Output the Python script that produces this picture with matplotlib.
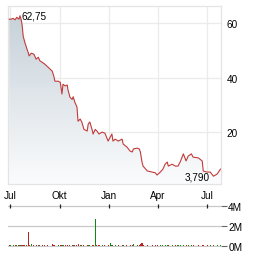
import matplotlib
matplotlib.use('Agg')
import matplotlib.pyplot as plt
import matplotlib.dates as mdates
import numpy as np
import pandas as pd

plt.rcParams['font.family'] = ['Liberation Sans', 'DejaVu Sans']

start = pd.Timestamp('2023-06-29')
# days after start
day = [0, 3, 7, 11, 14, 18, 20, 22, 24, 26,
       29, 33, 35, 37, 41, 46, 50, 54, 57, 61,
       66, 72, 80, 83, 85, 91, 95, 98, 100, 104,
       108, 109, 113, 117, 119, 122, 126, 128, 132, 135,
       139, 145, 147, 150, 154, 156, 160, 163, 167, 173,
       178, 184, 188, 191, 193, 197, 203, 210, 212, 219,
       225, 229, 231, 238, 242, 244, 247, 249, 257, 266,
       272, 275, 281, 286, 290, 294, 296, 303, 309, 314,
       318, 324, 329, 333, 339, 342, 352, 359, 361, 368,
       374, 380, 387, 393]
price = [61.5, 61.5, 61.8, 61.3, 62.2, 61.5, 62.75, 61.5, 59.3, 55.2,
         53.0, 50.5, 49.4, 48.0, 49.0, 48.6, 46.8, 47.5, 46.2, 45.7,
         45.0, 43.9, 42.4, 40.5, 38.7, 38.7, 38.3, 34.0, 37.6, 37.0,
         37.3, 35.8, 32.8, 32.0, 33.0, 31.0, 29.2, 24.0, 24.8, 23.7,
         21.0, 20.4, 23.0, 23.7, 21.0, 19.3, 21.0, 20.4, 19.3, 20.0,
         19.6, 16.7, 18.2, 19.3, 16.7, 17.4, 16.7, 17.4, 15.6, 14.5,
         13.0, 12.7, 13.8, 14.1, 13.8, 12.7, 9.0, 7.5, 5.7, 5.3,
         5.0, 4.2, 5.3, 6.4, 8.2, 9.0, 7.5, 8.2, 7.5, 7.5,
         9.0, 12.0, 9.4, 11.2, 12.0, 10.8, 10.5, 9.4, 5.7, 5.3,
         5.3, 3.79, 4.6, 6.4]
# volume in millions
volume = [0.08, 0.1, 0.06, 0.1, 0.08, 0.12, 0.1, 0.08, 0.1, 0.12,
          0.1, 0.08, 1.42, 0.1, 0.15, 0.1, 0.08, 0.1, 0.06, 0.1,
          0.08, 0.1, 0.2, 0.1, 0.08, 0.1, 0.1, 0.12, 0.08, 0.1,
          0.06, 0.1, 0.1, 0.08, 0.1, 0.1, 0.12, 0.15, 0.1, 0.08,
          0.1, 0.08, 0.1, 0.12, 0.1, 0.08, 2.7, 0.1, 0.08, 0.1,
          0.12, 0.1, 0.3, 0.1, 0.08, 0.1, 0.1, 0.12, 0.1, 0.08,
          0.1, 0.12, 0.15, 0.1, 0.12, 0.15, 0.25, 0.12, 0.1, 0.08,
          0.06, 0.08, 0.06, 0.08, 0.1, 0.06, 0.08, 0.06, 0.08, 0.06,
          0.08, 0.1, 0.06, 0.08, 0.06, 0.08, 0.06, 0.08, 0.06, 0.08,
          0.06, 0.08, 0.06, 0.08]
month_ticks = ['2023-07-01', '2023-10-01', '2024-01-01', '2024-04-01', '2024-07-01']
month_labels = ['Jul', 'Okt', 'Jan', 'Apr', 'Jul']

W, H = 264, 255
fig = plt.figure(figsize=(W / 100, H / 100), dpi=100)
ax = fig.add_axes([8 / W, (H - 185) / H, 213.3 / W, 178 / H])
# volume axes: 0M at y=246.7 px, 4M at y=207.3 px, with 1 px margin each side
axv = fig.add_axes([8 / W, (H - 247.7) / H, 213.3 / W, 41.4 / H])

dates = start + pd.to_timedelta(day, unit='D')
x = mdates.date2num(dates)
ticks = mdates.date2num(pd.to_datetime(month_ticks))
xmin = mdates.date2num(pd.Timestamp('2023-06-26 16:00'))
xmax = mdates.date2num(pd.Timestamp('2024-07-27 14:00'))
ymin, ymax = 0.92, 66.35

# gradient fill under the line
poly = ax.fill_between(x, price, ymin, color='none', lw=0)
grad = np.linspace(0, 1, 256).reshape(-1, 1)
top = np.array([196, 207, 215]) / 255
bot = np.array([251, 252, 253]) / 255
img = top * (1 - grad[..., None]) + bot * grad[..., None]
im = ax.imshow(img, extent=[xmin, xmax, ymin, ymax], aspect='auto', origin='upper', zorder=1)
im.set_clip_path(poly.get_paths()[0], transform=ax.transData)
ax.plot(x, price, color='#c23b3b', lw=0.8, zorder=3)

imax = int(np.argmax(price))
imin = int(np.argmin(price))
ax.annotate('62,75', (x[imax], price[imax]), xytext=(1.2, 0), textcoords='offset points',
            ha='left', va='center', fontsize=7.2, zorder=4)
ax.annotate('3,790', (x[imin], price[imin]), xytext=(-3, 0), textcoords='offset points',
            ha='right', va='center', fontsize=7.2, zorder=4)

ax.set_xlim(xmin, xmax)
ax.set_ylim(ymin, ymax)
ax.set_xticks(ticks)
ax.set_xticklabels(month_labels)
ax.set_yticks([20, 40, 60])
ax.yaxis.tick_right()
ax.tick_params(axis='both', length=0, labelsize=7.2)
ax.tick_params(axis='y', pad=4)
ax.tick_params(axis='x', pad=4)
ax.grid(True, color='#ebebeb', lw=0.9)
ax.set_axisbelow(True)
for s in ax.spines.values():
    s.set_color('#e4e4e4')
    s.set_linewidth(0.9)

# volume panel
colors = ['#118811' if i > 0 and price[i] >= price[i - 1] else '#b52222' for i in range(len(price))]
axv.bar(x, volume, width=1.9, color=colors, zorder=3)
axv.set_xlim(xmin, xmax)
axv.set_ylim(-0.1, 4.1)
axv.set_yticks([0, 2, 4])
axv.set_yticklabels(['0M', '2M', '4M'])
axv.yaxis.tick_right()
axv.tick_params(axis='y', length=4, color='#666666', labelsize=7.2, pad=1)
axv.set_xticks(ticks)
axv.tick_params(axis='x', length=0, labelbottom=False)
axv.grid(True, axis='y', color='#c8c8c8', lw=0.9)
# month ticks sitting on the 4M line
axv.plot(ticks, [4] * len(ticks), ls='none', marker='|', ms=3, mew=0.9, color='#222222',
         zorder=4, clip_on=False)
for s in axv.spines.values():
    s.set_visible(False)

fig.savefig('out.png', dpi=100)
